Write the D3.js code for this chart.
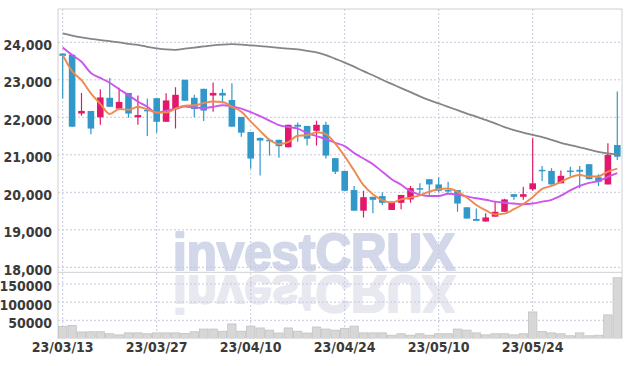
<!DOCTYPE html>
<html>
<head>
<meta charset="utf-8">
<script src="https://cdn.jsdelivr.net/npm/d3@7/dist/d3.min.js"></script>
<style>
  body { margin: 0; background: #fff; }
  text { font-family: 'Liberation Sans Narrow', 'DejaVu Sans Condensed', sans-serif; }
</style>
</head>
<body>
<div id="chart"></div>
<script>
// trading days shown on the chart
var dates = ['23/03/13','23/03/14','23/03/15','23/03/16','23/03/17','23/03/20','23/03/21','23/03/22','23/03/23','23/03/24',
  '23/03/27','23/03/28','23/03/29','23/03/30','23/03/31','23/04/03','23/04/04','23/04/05','23/04/06','23/04/07',
  '23/04/10','23/04/11','23/04/12','23/04/13','23/04/14','23/04/17','23/04/18','23/04/19','23/04/20','23/04/21',
  '23/04/24','23/04/25','23/04/26','23/04/27','23/04/28','23/05/02','23/05/03','23/05/04','23/05/08','23/05/09',
  '23/05/10','23/05/11','23/05/12','23/05/15','23/05/16','23/05/17','23/05/18','23/05/19','23/05/22','23/05/23',
  '23/05/24','23/05/25','23/05/26','23/05/30','23/05/31','23/06/01','23/06/02','23/06/05','23/06/07','23/06/08']

var open = [23700,23670,22100,22170,22000,22520,22230,22650,22000,22200,
  22510,21880,22220,23000,22520,22760,22580,22650,22460,22010,
  21610,21450,21400,21400,21200,21800,21770,21640,21800,20910,
  20570,20060,19510,19880,19900,19530,19720,19810,20110,20350,
  20210,20060,20060,19600,19290,19220,19350,19480,19950,19880,
  20080,20600,20570,20240,20580,20600,20750,20400,20210,21260]
var high = [23710,23680,22650,22170,22750,23050,22790,22650,22580,22500,
  22510,22640,22800,23000,22600,22760,22930,22760,22910,22010,
  21610,21460,21410,21400,21800,21860,21770,21910,21880,20910,
  20570,20170,20040,19880,20000,19750,19930,20170,20240,20350,
  20400,20280,20060,19600,19570,19440,19750,19830,19950,20150,
  21440,20700,20640,20580,20680,20700,20750,20480,21310,22690]
var low = [22500,21740,22040,21550,21800,22280,22220,21990,21800,21500,
  21590,21880,21700,22440,22000,21900,22150,22370,21750,21480,
  20630,20450,20980,20920,21200,21350,21250,21250,20900,20490,
  20030,19510,19330,19440,19660,19530,19550,19720,19960,19900,
  20000,19990,19480,19300,19240,19220,19350,19480,19800,19800,
  20040,20300,20210,20240,20420,20110,20350,20170,20210,20860]
var close = [23640,21750,22170,21700,22530,22280,22410,22100,22060,22180,
  21880,22450,22600,22440,22220,22180,22650,22580,21750,21590,
  20900,21380,21370,21230,21800,21750,21430,21800,20980,20550,
  20040,19510,19870,19800,19720,19750,19930,20110,20090,20210,
  20040,20040,19700,19300,19240,19330,19480,19810,19880,19950,
  20240,20560,20210,20440,20550,20550,20350,20280,21000,20950]
var volume = [33000,36000,18000,18500,18500,13000,10000,15500,15500,13000,
  15500,15500,15500,13500,18500,26000,26000,20000,40000,20000,
  34000,29000,23000,15000,29000,20000,15000,31500,26000,23000,
  28000,34000,15500,15500,15500,9000,13000,9000,13000,9000,
  13000,13000,26000,23000,15500,10000,13000,13000,10000,13000,
  73000,19500,15500,13000,7500,15500,7500,9000,65000,167000]

// moving averages (5, 10 and 60 day)
var ma5 = [23660,23230,22990,22640,22360,22090,22220,22200,22280,22210,
  22130,22130,22230,22310,22320,22380,22420,22410,22280,22150,
  21890,21640,21400,21290,21340,21510,21520,21600,21550,21300,
  20960,20580,20190,19950,19790,19730,19810,19860,19920,20020,
  20080,20100,20020,19860,19660,19520,19410,19430,19550,19690,
  19870,20090,20170,20280,20400,20460,20420,20430,20550,20630]
var ma10 = [23860,23660,23480,23180,23050,22920,22750,22590,22420,22280,
  22110,22180,22220,22290,22260,22250,22280,22320,22290,22230,
  22140,22030,21910,21790,21740,21700,21580,21500,21420,21320,
  21230,21050,20900,20750,20550,20350,20200,20030,19940,19900,
  19900,19960,19940,19890,19840,19800,19750,19720,19700,19680,
  19700,19750,19800,19910,20050,20170,20250,20300,20410,20510]
var ma60 = [24240,24180,24130,24090,24060,24030,24000,23960,23930,23880,
  23840,23810,23800,23830,23860,23890,23920,23940,23950,23940,
  23920,23900,23880,23850,23830,23810,23770,23730,23660,23560,
  23460,23350,23230,23120,23000,22890,22780,22670,22560,22460,
  22370,22280,22190,22100,22020,21930,21840,21740,21660,21590,
  21530,21470,21400,21320,21260,21200,21140,21080,21040,21010]

var tickDates = ['23/03/13','23/03/27','23/04/10','23/04/24','23/05/10','23/05/24']
var priceTicks = [18000,19000,20000,21000,22000,23000,24000]
var volumeTicks = [50000,100000,150000]

// chart geometry
var W = 631, H = 366
var left = 58, right = 622
var priceTop = 9, priceBottom = 272.3
var volTop = 272.3, volBottom = 338.5

var upColor = '#e2196a', downColor = '#3297c9'
var gridColor = '#c6c9dc'

var svg = d3.select('#chart')
  .append('svg')
  .attr('width', W)
  .attr('height', H)

var x = d3.scaleBand()
  .domain(dates)
  .range([left, right])
  .padding(0)
var cx = function (d) { return x(d) + x.bandwidth() / 2 }

var y = d3.scaleLinear()
  .domain([17867, 24888])
  .range([priceBottom, priceTop])

var yv = d3.scaleLinear()
  .domain([0, 182000])
  .range([volBottom, volTop])

// clip paths for the two panels
var defs = svg.append('defs')
defs.append('clipPath').attr('id', 'clipPrice')
  .append('rect').attr('x', left).attr('y', priceTop).attr('width', right - left).attr('height', priceBottom - priceTop)
defs.append('clipPath').attr('id', 'clipVol')
  .append('rect').attr('x', left).attr('y', volTop).attr('width', right - left).attr('height', volBottom - volTop)

// watermark + its reflection in the volume panel
function watermark (g, color) {
  g.append('text')
    .attr('x', 173).attr('y', 270)
    .attr('textLength', 282).attr('lengthAdjust', 'spacingAndGlyphs')
    .style('font-family', "'Liberation Sans', Arial, sans-serif")
    .style('font-weight', 'bold')
    .style('font-size', '52px')
    .attr('fill', color)
    .attr('stroke', color)
    .attr('stroke-width', 2.2)
    .attr('stroke-linejoin', 'round')
    .text('investCRUX')
}
watermark(svg.append('g'), '#d2d7e9')
watermark(svg.append('g').attr('clip-path', 'url(#clipVol)')
  .append('g').attr('transform', 'translate(0,' + (2 * volTop + 1) + ') scale(1,-1)'), '#e7e8f0')

// grid lines
var grid = svg.append('g')
grid.selectAll('.hp')
  .data(priceTicks)
  .enter().append('line')
  .attr('x1', left).attr('x2', right)
  .attr('y1', function (d) { return y(d) }).attr('y2', function (d) { return y(d) })
  .attr('stroke', gridColor).attr('stroke-dasharray', '2,2')
grid.selectAll('.hv')
  .data(volumeTicks)
  .enter().append('line')
  .attr('x1', left).attr('x2', right)
  .attr('y1', function (d) { return yv(d) }).attr('y2', function (d) { return yv(d) })
  .attr('stroke', gridColor).attr('stroke-dasharray', '2,2')
grid.selectAll('.vx')
  .data(tickDates)
  .enter().append('line')
  .attr('x1', cx).attr('x2', cx)
  .attr('y1', priceTop).attr('y2', volBottom)
  .attr('stroke', gridColor).attr('stroke-dasharray', '2,2')

// frame
svg.append('path')
  .attr('d', 'M' + left + ',' + volBottom + 'V' + priceTop + 'H' + right + 'V' + volBottom)
  .attr('fill', 'none').attr('stroke', '#cfcfd4')
svg.append('line')
  .attr('x1', left).attr('x2', right)
  .attr('y1', volTop).attr('y2', volTop)
  .attr('stroke', '#cfcfd4')

// volume bars
svg.append('g')
  .attr('clip-path', 'url(#clipVol)')
  .selectAll('rect')
  .data(dates)
  .enter().append('rect')
  .attr('x', function (d) { return x(d) + 0.5 })
  .attr('width', x.bandwidth() - 1)
  .attr('y', function (d, i) { return yv(volume[i]) })
  .attr('height', function (d, i) { return volBottom - yv(volume[i]) })
  .attr('fill', '#d7d7d7')
  .attr('stroke', '#c2c2c2')
  .attr('stroke-width', 0.8)

// candles
var candles = svg.append('g').attr('clip-path', 'url(#clipPrice)')
  .selectAll('g')
  .data(dates)
  .enter().append('g')
candles.append('line')
  .attr('x1', cx).attr('x2', cx)
  .attr('y1', function (d, i) { return y(high[i]) })
  .attr('y2', function (d, i) { return y(low[i]) })
  .attr('stroke', function (d, i) { return close[i] >= open[i] ? upColor : downColor })
  .attr('stroke-width', 1.2)
candles.append('rect')
  .attr('x', function (d) { return cx(d) - 3.3 })
  .attr('width', 6.6)
  .attr('y', function (d, i) { return y(Math.max(open[i], close[i])) })
  .attr('height', function (d, i) { return Math.max(1.5, Math.abs(y(open[i]) - y(close[i]))) })
  .attr('fill', function (d, i) { return close[i] >= open[i] ? upColor : downColor })

// moving average lines
function maLine (values, color, width) {
  svg.append('path')
    .datum(values)
    .attr('clip-path', 'url(#clipPrice)')
    .attr('fill', 'none')
    .attr('stroke', color)
    .attr('stroke-width', width)
    .attr('stroke-linejoin', 'round')
    .attr('d', d3.line()
      .x(function (d, i) { return cx(dates[i]) })
      .y(function (d) { return y(d) })
      .curve(d3.curveMonotoneX)
    )
}
maLine(ma60, '#858585', 1.8)
maLine(ma10, '#cc55ee', 1.9)
maLine(ma5, '#ee8a4e', 1.9)

// axes
var fontCss = function (sel) {
  sel.selectAll('text')
    .style('font-size', '14px')
    .style('font-weight', 'bold')
    .attr('fill', '#3a3a3a')
  sel.select('.domain').remove()
}
svg.append('g')
  .attr('transform', 'translate(' + left + ',0)')
  .call(d3.axisLeft(y).tickValues(priceTicks).tickFormat(d3.format(',')).tickSize(0).tickPadding(6))
  .call(fontCss)
  .selectAll('text').attr('dy', '0.48em')
svg.append('g')
  .attr('transform', 'translate(' + left + ',0)')
  .call(d3.axisLeft(yv).tickValues(volumeTicks).tickFormat(d3.format('d')).tickSize(0).tickPadding(6))
  .call(fontCss)
  .selectAll('text').attr('dy', '0.5em')
svg.append('g')
  .attr('transform', 'translate(0,' + volBottom + ')')
  .call(d3.axisBottom(x).tickValues(tickDates).tickSize(0).tickPadding(4))
  .call(fontCss)
</script>
</body>
</html>
